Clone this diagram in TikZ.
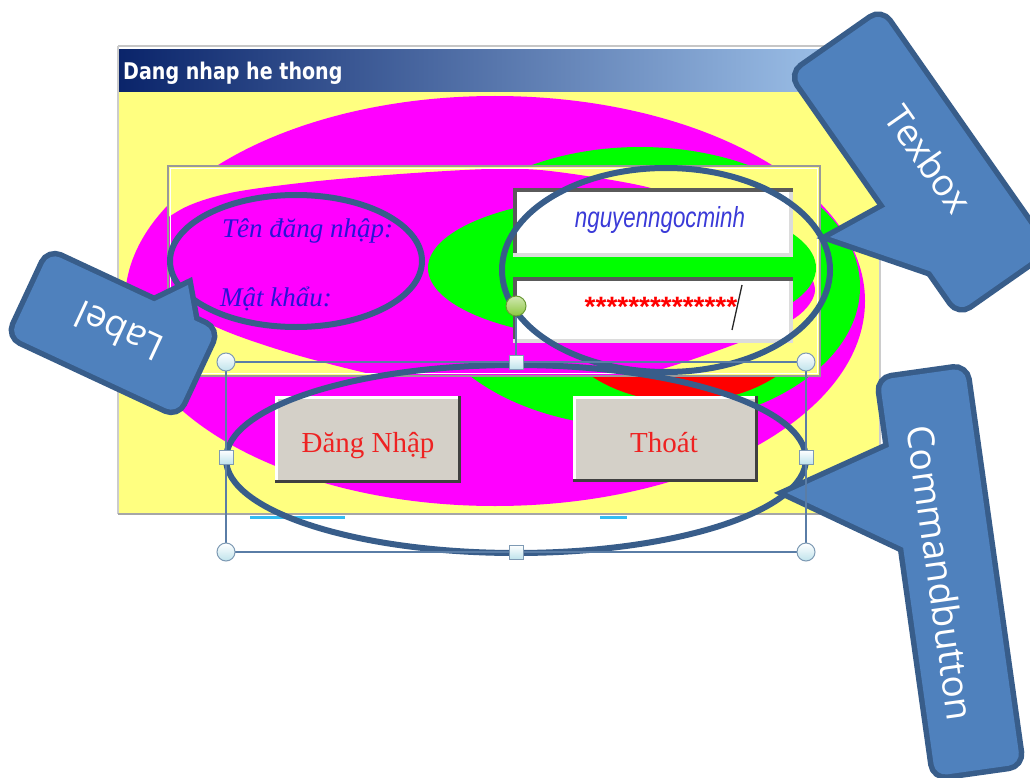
\documentclass[tikz,border=0pt]{standalone}
\usepackage{fontspec}
\setmainfont{Liberation Serif}
\newfontfamily\osans{Open Sans}
\newfontfamily\djsans{DejaVu Sans}
\newfontfamily\lsans{Liberation Sans}
\usetikzlibrary{shapes.geometric}
\definecolor{cofill}{HTML}{4F81BD}
\definecolor{coline}{HTML}{385D8A}
\definecolor{fyel}{HTML}{FFFF80}
\definecolor{fmag}{HTML}{FF00FF}
\definecolor{fgrn}{HTML}{00FF00}
\definecolor{fred}{HTML}{FF0000}
\definecolor{ttlL}{HTML}{0A246A}
\definecolor{ttlR}{HTML}{A6CAF0}
\definecolor{btnface}{HTML}{D4D0C8}
\definecolor{btnshadow}{HTML}{404040}
\definecolor{lblblue}{HTML}{2A12D6}
\definecolor{txtblue}{HTML}{3A3AD8}
\definecolor{btnred}{HTML}{EE2222}
\definecolor{selc}{HTML}{5A7DA6}
\definecolor{hcirc}{HTML}{7E9AB4}
\definecolor{hfill}{HTML}{BFE3EC}
\definecolor{framegray}{HTML}{999999}
\definecolor{tbdark}{HTML}{5A5A5A}
\definecolor{tblight}{HTML}{DCDCDC}
\definecolor{rotgreen}{HTML}{8CC63F}
\definecolor{rotline}{HTML}{6A9A35}
\tikzset{
  oval/.style={draw=coline, line width=6},
  coedge/.style={draw=coline, line width=11, line join=miter},
  cotext/.style={text=white, inner sep=0, font=\osans\fontsize{37}{37}\selectfont},
  selline/.style={draw=selc, line width=1.3},
  hround/.style={circle, draw=hcirc, line width=1, inner sep=0, minimum size=18, top color=white, bottom color=hfill},
  hsquare/.style={rectangle, draw=hcirc, line width=1, inner sep=0, minimum size=14, top color=white, bottom color=hfill},
  hrot/.style={circle, draw=rotline, line width=1, inner sep=0, minimum size=20, top color=rotgreen!40, bottom color=rotgreen},
  lbltext/.style={text=lblblue, inner sep=0, anchor=base west, font=\itshape\fontsize{27}{27}\selectfont},
  btntext/.style={text=btnred, inner sep=0, anchor=base, font=\fontsize{29}{29}\selectfont},
}
\begin{document}
\begin{tikzpicture}[x=1pt,y=-1pt]
\useasboundingbox (0,0) rectangle (1030,778);
\fill[white] (0,0) rectangle (1030,778);

% ---- form window ----
\draw[gray!45, line width=1.5] (118,46) -- (880,46);
\shade[left color=ttlL, right color=ttlR] (118,50) rectangle (880,92);
\node[anchor=base west, text=white, inner sep=0] (title) at (123,80)
  {\djsans\bfseries\fontsize{23}{23}\selectfont\scalebox{0.83}[1]{Dang nhap he thong}};
\fill[fyel] (118,92) rectangle (880,514);
\begin{scope}
  \clip (118,92) rectangle (880,514);
  \fill[fmag] (495,301) ellipse [x radius=370, y radius=205];
  \fill[fgrn] (640,287) ellipse [x radius=220, y radius=140];
  \fill[fred] (684,312) ellipse [x radius=132, y radius=90];
\end{scope}
\draw[gray!40, line width=1.2] (118,46) -- (118,514);
\draw[gray!40, line width=1.2] (880,46) -- (880,514);
\draw[gray!70, line width=2] (118,514) -- (880,514);
\fill[cyan!80] (250,515.5) rectangle (345,518.5);
\fill[cyan!80] (600,515.5) rectangle (627,518.5);

% ---- frame ----
\fill[fyel] (168,166) rectangle (820,376);
\begin{scope}
  \clip (169,167) rectangle (819,375);
  \fill[fmag] plot[smooth cycle] coordinates {(140,245) (180,210) (230,193) (309,182) (400,174) (490,169) (550,171) (647,187) (730,215) (795,255) (815,290) (795,318) (733,345) (640,375) (520,394) (400,380) (300,356) (223,330) (160,296)};
  \fill[fgrn] (622,268) ellipse [x radius=194, y radius=72];
\end{scope}
\draw[framegray, line width=1.8] (168,166) rectangle (820,376);
\draw[white, line width=1] (170.5,168.5) rectangle (817.5,373.5);

% ---- labels ----
\node[lbltext] (lten) at (222,237) {Tên đăng nhập:};
\node[lbltext] (lmk) at (220,306) {Mật khẩu:};

% ---- text boxes ----
\fill[white] (513,188) rectangle (793,257);
\fill[tbdark] (513,188) rectangle (793,192);
\fill[tbdark] (513,188) rectangle (517,257);
\fill[tblight] (513,253) rectangle (793,257);
\fill[tblight] (789,192) rectangle (793,257);
\node[text=txtblue, inner sep=0, anchor=base] (user) at (660,227)
  {\lsans\itshape\fontsize{29}{29}\selectfont\scalebox{0.77}[1]{nguyenngocminh}};

\fill[white] (513,277) rectangle (793,343);
\fill[tbdark] (513,277) rectangle (793,281);
\fill[tbdark] (513,277) rectangle (517,343);
\fill[tblight] (513,339) rectangle (793,343);
\fill[tblight] (789,281) rectangle (793,343);
\node[text=fred, inner sep=0, anchor=base] (pass) at (661,316)
  {\lsans\bfseries\fontsize{28}{28}\selectfont **************};
\coordinate (curA) at (742,285);
\coordinate (curB) at (732,330);
\draw[black!85, line width=1.3] (curA) -- (curB);

% ---- buttons ----
\fill[btnface] (275,396) rectangle (461,483);
\fill[btnshadow] (275,480) rectangle (461,483);
\fill[btnshadow] (458,396) rectangle (461,483);
\fill[white] (275,396) rectangle (458,398.5);
\fill[white] (275,396) rectangle (277.5,480);
\node[btntext] (bdn) at (368,452) {Đăng Nhập};

\fill[btnface] (573,396) rectangle (758,482);
\fill[btnshadow] (573,479) rectangle (758,482);
\fill[btnshadow] (755,396) rectangle (758,482);
\fill[white] (573,396) rectangle (755,398.5);
\fill[white] (573,396) rectangle (575.5,479);
\node[btntext] (bth) at (664,452) {Thoát};

% ---- highlight ovals ----
\draw[oval] (296,261) ellipse [x radius=126, y radius=66];
\draw[oval] (666,270) ellipse [x radius=164, y radius=102];
\draw[oval] (516,459) ellipse [x radius=290, y radius=94];

% ---- callouts (outline) ----
\coordinate (lp1) at (151,303);
\coordinate (ltip) at (188,285);
\coordinate (lp2) at (195,324);
\coordinate (tp1) at (890,204);
\coordinate (ttip) at (830,237);
\coordinate (tp2) at (938,274);
\coordinate (cp1) at (893,445);
\coordinate (ctip) at (787,493);
\coordinate (cp2) at (908,550);

\path[coedge] (lp1) -- (ltip) -- (lp2) -- cycle;
\path[coedge] (tp1) -- (ttip) -- (tp2) -- cycle;
\path[coedge] (cp1) -- (ctip) -- (cp2) -- cycle;
\begin{scope}[shift={(113,333)}, rotate=-25]
  \path[coedge, rounded corners=12] (-92,-46) rectangle (92,46);
\end{scope}
\begin{scope}[shift={(920,162)}, rotate=-55]
  \path[coedge, rounded corners=12] (-145,-54) rectangle (145,54);
\end{scope}
\begin{scope}[shift={(950,572)}, rotate=-82]
  \path[coedge, rounded corners=12] (-200,-43) rectangle (200,43);
\end{scope}
% fills
\fill[cofill] (lp1) -- (ltip) -- (lp2) -- cycle;
\fill[cofill] (tp1) -- (ttip) -- (tp2) -- cycle;
\fill[cofill] (cp1) -- (ctip) -- (cp2) -- cycle;
\begin{scope}[shift={(113,333)}, rotate=-25]
  \fill[cofill, rounded corners=12] (-92,-46) rectangle (92,46);
\end{scope}
\begin{scope}[shift={(920,162)}, rotate=-55]
  \fill[cofill, rounded corners=12] (-145,-54) rectangle (145,54);
\end{scope}
\begin{scope}[shift={(950,572)}, rotate=-82]
  \fill[cofill, rounded corners=12] (-200,-43) rectangle (200,43);
\end{scope}
\node[cotext, rotate=155] (clabel) at (119,332) {Label};
\node[cotext, rotate=-55] (ctexbox) at (929,159) {Texbox};
\node[cotext, rotate=-82] (ccmd) at (941,573) {Commandbutton};

% ---- selection frame & handles ----
\coordinate (sTL) at (226,362);
\coordinate (sBR) at (806,552);
\draw[selline] (sTL) rectangle (sBR);
\node[hrot] (hr) at (516,306) {};
\node[hsquare] (htm) at (516,362) {};
\draw[selc, line width=1.2] (hr) -- (htm);
\node[hround] (htl) at (226,362) {};
\node[hround] (htr) at (806,362) {};
\node[hsquare] (hml) at (226,457) {};
\node[hsquare] (hmr) at (806,457) {};
\node[hround] (hbl) at (226,552) {};
\node[hsquare] (hbm) at (516,552) {};
\node[hround] (hbr) at (806,552) {};
\end{tikzpicture}
\end{document}
